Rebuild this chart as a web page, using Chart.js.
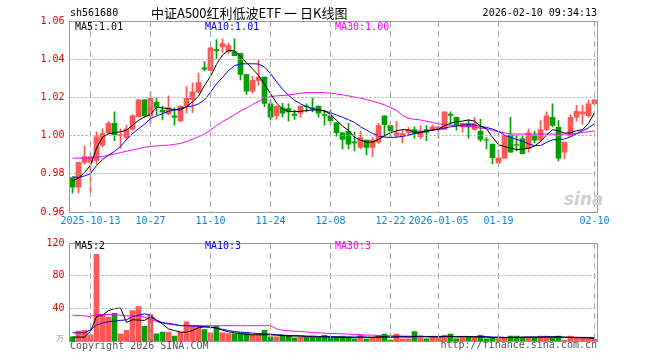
<!DOCTYPE html>
<html>
<head>
<meta charset="utf-8">
<script src="https://cdn.jsdelivr.net/npm/chart.js@4"></script>
<style>
  body { margin: 0; background: #fff; }
  #wrap { position: relative; width: 660px; height: 360px; overflow: hidden; background: #fff; }
  canvas { position: absolute; left: 0; }
  .t { position: absolute; z-index: 2; font: 10px "DejaVu Sans Mono", monospace; line-height: 12px; white-space: pre; color: #000; }
</style>
</head>
<body>
<div id="wrap">
  <canvas id="k" width="660" height="232" style="top:0"></canvas>
  <canvas id="v" width="660" height="128" style="top:232px"></canvas>

  <div class="t" style="left:70px;top:7px">sh561680</div>
  <div class="t" style="left:151px;top:4px;font:13px 'Noto Sans CJK SC';line-height:18px">中证A500红利低波ETF 一 日K线图</div>
  <div class="t" style="right:63px;top:7px">2026-02-10 09:34:13</div>

  <div class="t" style="left:75px;top:21px">MA5:1.01</div>
  <div class="t" style="left:205px;top:21px;color:#0000ff">MA10:1.01</div>
  <div class="t" style="left:335px;top:21px;color:#ff00ff">MA30:1.00</div>

  <div class="t" style="left:564px;top:189px;font:italic bold 17px 'DejaVu Sans';line-height:20px;color:#cfcfcf">sina</div>

  <div class="t" style="left:75px;top:240px">MA5:2</div>
  <div class="t" style="left:205px;top:240px;color:#0000ff">MA10:3</div>
  <div class="t" style="left:335px;top:240px;color:#ff00ff">MA30:3</div>
  <div class="t" style="left:56px;top:334px;font-size:8px;line-height:10px;color:#999">万</div>

  <div class="t" style="left:70px;top:340px;color:#555">Copyright 2026 SINA.COM</div>
  <div class="t" style="right:63px;top:339px;color:#555">http://finance.sina.com.cn</div>
</div>

<script>
// ---------- trading days shown on the chart ----------
const dates = [
  '2025-09-30','2025-10-09','2025-10-10',
  '2025-10-13','2025-10-14','2025-10-15','2025-10-16','2025-10-17',
  '2025-10-20','2025-10-21','2025-10-22','2025-10-23','2025-10-24',
  '2025-10-27','2025-10-28','2025-10-29','2025-10-30','2025-10-31',
  '2025-11-03','2025-11-04','2025-11-05','2025-11-06','2025-11-07',
  '2025-11-10','2025-11-11','2025-11-12','2025-11-13','2025-11-14',
  '2025-11-17','2025-11-18','2025-11-19','2025-11-20','2025-11-21',
  '2025-11-24','2025-11-25','2025-11-26','2025-11-27','2025-11-28',
  '2025-12-01','2025-12-02','2025-12-03','2025-12-04','2025-12-05',
  '2025-12-08','2025-12-09','2025-12-10','2025-12-11','2025-12-12',
  '2025-12-15','2025-12-16','2025-12-17','2025-12-18','2025-12-19',
  '2025-12-22','2025-12-23','2025-12-24','2025-12-25','2025-12-26',
  '2025-12-29','2025-12-30','2025-12-31',
  '2026-01-05','2026-01-06','2026-01-07','2026-01-08','2026-01-09',
  '2026-01-12','2026-01-13','2026-01-14','2026-01-15','2026-01-16',
  '2026-01-19','2026-01-20','2026-01-21','2026-01-22','2026-01-23',
  '2026-01-26','2026-01-27','2026-01-28','2026-01-29','2026-01-30',
  '2026-02-02','2026-02-03','2026-02-04','2026-02-05','2026-02-06',
  '2026-02-09','2026-02-10'
]

// dates that get a label under the price panel, and the text shown
const tickDates = ['2025-10-13','2025-10-27','2025-11-10','2025-11-24','2025-12-08','2025-12-22','2026-01-05','2026-01-19','2026-02-10']
const tickLabels = ['2025-10-13','10-27','11-10','11-24','12-08','12-22','2026-01-05','01-19','02-10']

// ---------- daily OHLC ----------
const open = [
  0.978, 0.973, 0.986, 0.986, 0.987, 0.995, 1.0015, 1.0064, 1.000, 0.999,
  1.0032, 1.0099, 1.0187, 1.0103, 1.0176, 1.0134, 1.0113, 1.0103, 1.0078, 1.0155,
  1.019, 1.0229, 1.0355, 1.0341, 1.045, 1.0464, 1.0439, 1.0439, 1.0429, 1.032,
  1.0232, 1.0289, 1.0306, 1.0166, 1.0103, 1.0145, 1.0141, 1.0113, 1.0117, 1.0155,
  1.0145, 1.0155, 1.011, 1.0103, 1.0067, 1.0015, 1.0022, 0.9968, 0.9938, 0.9976,
  0.9938, 0.9966, 1.0103, 1.0053, 1.0001, 0.9997, 1.0015, 1.0032, 0.9994, 1.0032,
  1.0032, 1.0032, 1.0032, 1.0113, 1.0096, 1.0046, 1.0064, 1.0032, 1.0022, 0.9978,
  0.9955, 0.9857, 0.9882, 1.0001, 0.9953, 0.9983, 0.9931, 1.0000, 0.9976, 1.0032,
  1.0096, 1.0043, 0.9913, 0.9997, 1.0096, 1.0113, 1.0103, 1.0166
]
const high = [
  0.978, 0.986, 0.9945, 0.991, 1.002, 1.0036, 1.0075, 1.0124, 1.0036, 1.0055,
  1.011, 1.019, 1.0187, 1.0229, 1.0197, 1.0155, 1.0208, 1.0145, 1.0155, 1.0257,
  1.0275, 1.0327, 1.0387, 1.047, 1.0503, 1.0506, 1.0485, 1.0506, 1.0429, 1.032,
  1.031, 1.0398, 1.0306, 1.0187, 1.0155, 1.0169, 1.0166, 1.0134, 1.0155, 1.0166,
  1.0197, 1.0155, 1.0134, 1.0134, 1.0067, 1.0015, 1.0064, 1.0018, 1.0022, 0.9976,
  0.999, 1.0064, 1.0103, 1.0053, 1.0075, 1.0029, 1.0043, 1.0046, 1.0053, 1.0053,
  1.0057, 1.0046, 1.0124, 1.0124, 1.0096, 1.0064, 1.0082, 1.0096, 1.0085, 0.999,
  0.9955, 0.9924, 1.0001, 1.0096, 1.0000, 1.0000, 1.0036, 1.0022, 1.0078, 1.0124,
  1.0166, 1.0078, 0.9966, 1.011, 1.0159, 1.0159, 1.0187, 1.0187
]
const low = [
  0.970, 0.970, 0.985, 0.970, 0.985, 0.9941, 1.0008, 0.9973, 0.9934, 0.9977,
  1.0029, 1.0096, 1.0096, 1.0061, 1.011, 1.0082, 1.011, 1.0054, 1.0071, 1.0117,
  1.012, 1.0222, 1.0338, 1.034, 1.0404, 1.0436, 1.0429, 1.0418, 1.0292, 1.0215,
  1.0222, 1.0264, 1.0152, 1.0082, 1.0085, 1.0096, 1.0075, 1.0085, 1.0096, 1.0124,
  1.0124, 1.0096, 1.0054, 1.0057, 0.9997, 0.993, 0.993, 0.992, 0.993, 0.9899,
  0.9889, 0.9959, 0.9997, 0.9994, 0.999, 0.9962, 1.0001, 0.9987, 0.9983, 0.9973,
  1.0025, 0.9987, 1.0032, 1.006, 1.0029, 1.0018, 0.9987, 1.0029, 0.9969, 0.993,
  0.9853, 0.9853, 0.9882, 0.9913, 0.992, 0.9903, 0.9913, 0.9962, 0.9966, 1.0025,
  1.0046, 0.9868, 0.9878, 0.9997, 1.0075, 1.006, 1.0096, 1.0166
]
const close = [
  0.973, 0.986, 0.989, 0.989, 0.9994, 1.001, 1.0064, 1.0003, 1.0005, 1.0034,
  1.0103, 1.0187, 1.0103, 1.0197, 1.0148, 1.0124, 1.0145, 1.0096, 1.0155, 1.0197,
  1.0229, 1.0278, 1.0348, 1.046, 1.0445, 1.0482, 1.0471, 1.0418, 1.032, 1.0232,
  1.0289, 1.0306, 1.0169, 1.0096, 1.0155, 1.0117, 1.0124, 1.0106, 1.0155, 1.0152,
  1.014, 1.0117, 1.0106, 1.0078, 1.0015, 0.998, 0.9955, 0.9962, 0.999, 0.9938,
  0.9976, 1.0053, 1.0057, 1.0025, 1.0015, 1.0011, 1.0032, 1.0011, 1.0025, 1.0018,
  1.0046, 1.0046, 1.0124, 1.0106, 1.0057, 1.0064, 1.0046, 1.0064, 0.998, 0.9976,
  0.9885, 0.9882, 1.0001, 0.9913, 0.995, 0.9906, 1.0015, 0.9976, 1.0032, 1.0103,
  1.0053, 0.9882, 0.9966, 1.0096, 1.0127, 1.0124, 1.0166, 1.0187
]

// ---------- price moving averages ----------
const ma5 = [
  0.9762, 0.9778, 0.9806, 0.9845, 0.9934, 0.9992, 1.0010, 1.0015, 1.0020, 1.0029,
  1.0054, 1.0080, 1.0097, 1.0111, 1.0148, 1.0145, 1.0141, 1.0136, 1.0134, 1.0152,
  1.0176, 1.0206, 1.0262, 1.0310, 1.0373, 1.0422, 1.0446, 1.0443, 1.0415, 1.0382,
  1.0350, 1.0315, 1.0268, 1.0220, 1.0171, 1.0139, 1.0127, 1.0125, 1.0127, 1.0131,
  1.0134, 1.0134, 1.0129, 1.0111, 1.0080, 1.0050, 1.0027, 0.9992, 0.9976, 0.9966,
  0.9966, 0.9980, 0.9999, 1.0015, 1.0025, 1.0032, 1.0029, 1.0018, 1.0018, 1.0025,
  1.0029, 1.0034, 1.0052, 1.0064, 1.0073, 1.0076, 1.0082, 1.0076, 1.0050, 1.0036,
  0.9992, 0.9952, 0.9943, 0.9934, 0.9927, 0.9929, 0.9934, 0.9945, 0.9969, 1.0003,
  1.0031, 1.0025, 1.0013, 1.0015, 1.0025, 1.0031, 1.0064, 1.0120
]
const ma10 = [
  0.9785, 0.9780, 0.9789, 0.9801, 0.9843, 0.9875, 0.9897, 0.9917, 0.9943, 0.9980,
  1.0010, 1.0036, 1.0059, 1.0089, 1.0103, 1.0115, 1.0127, 1.0134, 1.0143, 1.0150,
  1.0155, 1.0166, 1.0187, 1.0227, 1.0271, 1.0304, 1.0341, 1.0366, 1.0375, 1.0376,
  1.0376, 1.0375, 1.0359, 1.0325, 1.0282, 1.0243, 1.0211, 1.0185, 1.0166, 1.0152,
  1.0141, 1.0136, 1.0129, 1.0120, 1.0108, 1.0096, 1.0083, 1.0069, 1.0046, 1.0029,
  1.0011, 0.9999, 0.9992, 0.9990, 0.9992, 0.9996, 1.0003, 1.0010, 1.0015, 1.0022,
  1.0029, 1.0032, 1.0039, 1.0046, 1.0050, 1.0055, 1.0057, 1.0055, 1.0048, 1.0043,
  1.0034, 1.0022, 1.0003, 0.9990, 0.9980, 0.9971, 0.9957, 0.9948, 0.9948, 0.9964,
  0.9978, 0.9980, 0.9982, 0.9994, 1.0010, 1.0025, 1.0041, 1.0062
]
const ma30 = [
  0.9882, 0.9882, 0.9882, 0.9883, 0.9887, 0.9890, 0.9897, 0.9904, 0.9911, 0.9918,
  0.9925, 0.9932, 0.9939, 0.9943, 0.9946, 0.9948, 0.9950, 0.9954, 0.9959, 0.9969,
  0.9982, 0.9994, 1.0008, 1.0030, 1.0052, 1.0073, 1.0090, 1.0110, 1.0129, 1.0145,
  1.0162, 1.0178, 1.0196, 1.0204, 1.0208, 1.0210, 1.0213, 1.0217, 1.0222, 1.0225,
  1.0225, 1.0225, 1.0225, 1.0222, 1.0218, 1.0213, 1.0208, 1.0201, 1.0197, 1.0189,
  1.0180, 1.0171, 1.0161, 1.0146, 1.0131, 1.0106, 1.0090, 1.0085, 1.0082, 1.0075,
  1.0069, 1.0062, 1.0057, 1.0054, 1.0052, 1.0050, 1.0048, 1.0045, 1.0039, 1.0036,
  1.0027, 1.0020, 1.0015, 1.0008, 1.0008, 1.0008, 1.0008, 1.0008, 1.0008, 1.0008,
  1.0008, 1.0008, 1.0008, 1.0008, 1.0011, 1.0017, 1.0020, 1.0025
]

// ---------- volume (万) and its moving averages ----------
const vol = [
  5.2, 12, 13.2, 7.2, 106, 32, 29, 34, 8.8, 13.2,
  37.2, 42, 18, 32.4, 8.8, 10.8, 10.8, 6, 10.8, 23.6,
  18.8, 18.8, 14, 10, 18, 10, 9.2, 8.8, 10, 10,
  8, 8.8, 13.2, 5.2, 5.2, 7.2, 6.8, 4, 4.8, 4.8,
  4.8, 4.8, 6.8, 5.2, 5.2, 6, 5.2, 2.8, 7.6, 2.4,
  5.2, 6.8, 8.4, 1.2, 8.4, 2.8, 2.8, 11.6, 5.2, 2.8,
  5.2, 5.2, 6.8, 8.4, 2.8, 5.2, 5.2, 5.2, 6.8, 2.8,
  4, 2.8, 3.6, 6, 6, 4, 4, 4, 6, 6,
  4, 6, 1.2, 6, 4, 4, 2.8, 2
]
const vma5 = [
  4.8, 4.8, 4.8, 12, 30, 31.6, 37.2, 39.6, 40.4, 22.8,
  26, 25.6, 25.2, 29.6, 25.2, 20.8, 14.8, 12.8, 10.8, 10.8,
  12.8, 16.4, 17.2, 17.2, 16, 13.2, 11.2, 10, 9.2, 8,
  7.6, 7.6, 7.6, 7.6, 7.2, 6.8, 6, 6, 6, 5.6,
  5.2, 5.2, 5.2, 4.8, 4.8, 4.4, 4.4, 4.4, 4.8, 4.4,
  4.4, 5.2, 5.2, 4.8, 4.8, 5.2, 4.8, 5.6, 6, 5.2,
  5.2, 5.2, 5.6, 5.6, 5.2, 5.6, 5.6, 5.2, 5.2, 4.8,
  4.4, 4, 4, 4.4, 4.4, 4.8, 4.8, 4.8, 4.8, 5.2,
  5.2, 5.2, 4.8, 4.4, 4.4, 4, 3.6, 3
]
const vma10 = [
  10, 10, 10, 13.6, 19.6, 22, 23.6, 24.4, 25.2, 26,
  29.6, 31.6, 33.2, 31.6, 25.6, 22.4, 21.6, 20.4, 18.8, 18.8,
  18.4, 18, 17.6, 16.8, 15.6, 14.4, 12.8, 11.6, 10.8, 10.4,
  9.6, 9.2, 8.8, 8.4, 7.6, 7.2, 6.8, 6.8, 6.4, 6,
  6, 5.6, 5.6, 5.2, 5.2, 4.8, 4.8, 4.8, 4.8, 4.8,
  4.4, 4.4, 4.8, 4.8, 5.2, 5.2, 5.2, 5.2, 5.6, 5.6,
  5.6, 5.6, 5.6, 5.6, 5.6, 5.6, 5.2, 5.2, 5.2, 5.2,
  4.8, 4.8, 4.4, 4.4, 4.4, 4.4, 4.8, 4.8, 4.8, 4.8,
  4.8, 4.8, 4.4, 4.4, 4.4, 4.4, 4, 4
]
const vma30 = [
  31.6, 31.2, 30.8, 30, 32.4, 32.4, 32.4, 32, 31.6, 30.8,
  30.8, 30.8, 29.2, 26.4, 24, 22.4, 20.4, 19.6, 18.8, 18.8,
  18.8, 18.8, 18.8, 18.8, 18.8, 18.8, 18.8, 18.8, 18.8, 18.8,
  18.8, 18.8, 18.8, 18.8, 14.8, 13.2, 12.4, 12, 11.6, 11.2,
  10.4, 10, 9.6, 9.2, 9, 8.8, 8.4, 8, 7.6, 7.2,
  7.2, 6.8, 6.8, 6.4, 6.4, 6, 6, 5.6, 5.2, 5.2,
  5.2, 4.8, 4.8, 4.8, 4.8, 4.8, 4.8, 4.8, 4.8, 4.8,
  4.4, 4.4, 4.4, 4.4, 4.4, 4.4, 4.4, 4.4, 4.4, 4.4,
  4.4, 4.4, 4.4, 4.4, 4.4, 4.4, 4.4, 4.4
]

// ---------- helpers ----------
const RED = '#ff5656'
const GREEN = '#00a000'
Chart.defaults.font.family = 'DejaVu Sans Mono'
Chart.defaults.font.size = 10

let up = close.map((c, i) => c >= open[i])
let barColors = up.map(u => u ? RED : GREEN)

// index -> label text for the date axis
let tickMap = {}
tickDates.forEach((d, n) => { tickMap[dates.indexOf(d)] = tickLabels[n] })

// keep only the labelled days as x ticks
let keepDateTicks = s => { s.ticks = s.ticks.filter(t => t.value in tickMap) }

// dashed / dotted grid at the scales' ticks, then the gray frame
const frame = {
  id: 'frame',
  afterDraw(chart) {
    let a = chart.chartArea
    let c = chart.ctx
    let xs = chart.scales.x
    let ys = chart.scales.y
    c.save()
    c.globalCompositeOperation = 'source-over'
    c.globalAlpha = 1
    c.strokeStyle = '#aaa'
    c.lineWidth = 1
    c.setLineDash([6, 4])
    xs.ticks.forEach(t => {
      let px = Math.floor(xs.getPixelForValue(t.value)) + 0.5
      c.beginPath()
      c.moveTo(px, a.top)
      c.lineTo(px, a.bottom)
      c.stroke()
    })
    c.setLineDash([2, 2])
    ys.ticks.forEach((t, i) => {
      if (i === 0 || i === ys.ticks.length - 1) return
      let py = Math.floor(ys.getPixelForValue(t.value)) + 0.5
      c.beginPath()
      c.moveTo(a.left, py)
      c.lineTo(a.right, py)
      c.stroke()
    })
    c.setLineDash([])
    c.strokeStyle = '#999'
    c.strokeRect(Math.floor(a.left) + 0.5, Math.floor(a.top) + 0.5, Math.round(a.right - a.left), Math.round(a.bottom - a.top))
    c.restore()
  }
}

function maLine(data, color) {
  return { type: 'line', data: data, borderColor: color, borderWidth: 1, pointRadius: 0, tension: 0, fill: false, order: 0 }
}

// ---------- price panel ----------
new Chart(document.getElementById('k'), {
  type: 'bar',
  data: {
    labels: dates,
    datasets: [
      maLine(ma5, '#000000'),
      maLine(ma10, '#0000ff'),
      maLine(ma30, '#ff00ff'),
      { data: open.map((o, i) => [o, close[i]]), backgroundColor: barColors, barThickness: 5, grouped: false, order: 1 },
      { data: low.map((l, i) => [l, high[i]]), backgroundColor: barColors, barThickness: 1, grouped: false, order: 2 }
    ]
  },
  options: {
    responsive: false,
    animation: false,
    layout: { padding: { left: 0, right: 62.5, top: 21, bottom: 0 } },
    plugins: { legend: { display: false }, tooltip: { enabled: false } },
    scales: {
      x: {
        offset: true,
        afterBuildTicks: keepDateTicks,
        grid: { display: false, drawTicks: false },
        border: { display: false },
        ticks: { autoSkip: false, maxRotation: 0, minRotation: 0, padding: 3, color: '#0a84d6', callback: v => tickMap[v] || '' },
        afterFit: s => { s.height = 20 }
      },
      y: {
        min: 0.96, max: 1.06,
        grid: { display: false, drawTicks: false },
        border: { display: false },
        ticks: { stepSize: 0.02, padding: 5, color: '#e00000', callback: v => v.toFixed(2) },
        afterFit: s => { s.width = 69.5 }
      }
    }
  },
  plugins: [frame]
})

// ---------- volume panel ----------
new Chart(document.getElementById('v'), {
  type: 'bar',
  data: {
    labels: dates,
    datasets: [
      maLine(vma5, '#000000'),
      maLine(vma10, '#0000ff'),
      maLine(vma30, '#ff00ff'),
      { data: vol, backgroundColor: barColors, barThickness: 5, order: 1 }
    ]
  },
  options: {
    responsive: false,
    animation: false,
    layout: { padding: { left: 0, right: 62.5, top: 8, bottom: 19 } },
    plugins: { legend: { display: false }, tooltip: { enabled: false } },
    scales: {
      x: {
        offset: true,
        afterBuildTicks: keepDateTicks,
        grid: { display: false, drawTicks: false },
        border: { display: false },
        ticks: { display: false, autoSkip: false },
        afterFit: s => { s.height = 0 }
      },
      y: {
        min: 0, max: 120,
        grid: { display: false, drawTicks: false },
        border: { display: false },
        ticks: { stepSize: 40, padding: 5, color: '#e00000', callback: v => v === 0 ? '' : v },
        afterFit: s => { s.width = 69.5 }
      }
    }
  },
  plugins: [frame]
})
</script>
</body>
</html>
